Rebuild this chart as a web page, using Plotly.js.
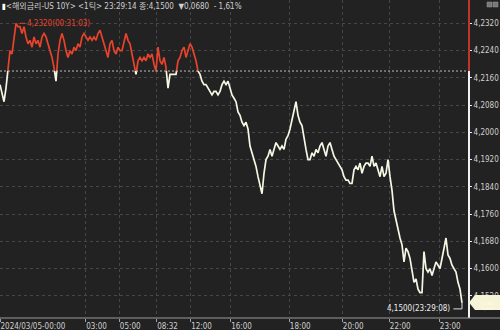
<!DOCTYPE html>
<html><head><meta charset="utf-8">
<script src="https://cdn.plot.ly/plotly-3.0.1.min.js"></script>
<style>html,body{margin:0;padding:0;background:#222;} #chart{width:500px;height:330px;}</style>
</head><body><div id="chart"></div>
<script>
// Tick-by-tick prices of US 10Y yield, 2024/03/05
const prices = [
4.214,4.211,4.209,4.213,4.219,4.224,4.223,4.227,4.232,4.231,
4.231,4.229,4.231,4.228,4.226,4.227,4.225,4.228,4.226,4.227,
4.225,4.228,4.229,4.228,4.226,4.224,4.222,4.219,4.215,4.223,
4.227,4.229,4.227,4.224,4.222,4.224,4.223,4.225,4.224,4.226,
4.225,4.228,4.229,4.228,4.227,4.228,4.227,4.228,4.227,4.229,
4.230,4.228,4.226,4.224,4.222,4.226,4.227,4.224,4.223,4.225,
4.224,4.224,4.227,4.229,4.227,4.226,4.223,4.220,4.217,4.221,
4.222,4.221,4.222,4.221,4.223,4.222,4.223,4.220,4.218,4.225,
4.221,4.220,4.222,4.219,4.213,4.217,4.217,4.217,4.217,4.221,
4.222,4.224,4.225,4.222,4.224,4.226,4.225,4.223,4.221,4.218,
4.217,4.215,4.214,4.214,4.213,4.212,4.211,4.212,4.212,4.211,
4.212,4.214,4.215,4.214,4.215,4.213,4.211,4.210,4.209,4.206,
4.205,4.203,4.202,4.203,4.201,4.196,4.194,4.192,4.190,4.187,
4.184,4.182,4.188,4.192,4.193,4.195,4.193,4.195,4.197,4.196,
4.195,4.196,4.195,4.198,4.199,4.201,4.204,4.207,4.209,4.205,
4.203,4.202,4.198,4.195,4.192,4.192,4.194,4.193,4.195,4.194,
4.196,4.197,4.195,4.193,4.196,4.197,4.195,4.193,4.192,4.191,
4.190,4.189,4.187,4.186,4.186,4.185,4.185,4.189,4.190,4.189,
4.191,4.188,4.190,4.191,4.191,4.190,4.193,4.190,4.191,4.189,
4.187,4.190,4.187,4.188,4.192,4.187,4.183,4.177,4.174,4.172,
4.169,4.167,4.162,4.166,4.165,4.163,4.160,4.156,4.157,4.154,
4.153,4.153,4.165,4.160,4.159,4.160,4.158,4.160,4.162,4.161,
4.160,4.163,4.166,4.169,4.164,4.163,4.161,4.160,4.159,4.156,
4.154,4.150
];
const prevClose = 4.218;
const maxTime = "00:31:03";
const lastTime = "23:29:08";
const lastChangePct = "-1,61%";
const timeLabels = ["2024/03/05-00:00","03:00","05:00","08:32","12:00","16:00","18:00","20:00","22:00","23:00"];
const timeLabelIdx = [0, 42.85, 59.65, 78.35, 95.35, 115.35, 144.65, 171.15, 194.65, 219.65];
const yTicksLow = [4.152,4.160,4.168,4.176,4.184,4.192,4.200,4.208,4.216];
const yTicksHigh = [4.224,4.232];
const headerText = "<해외금리-US 10Y> <1틱> 23:29:14 종:4,1500  ▼0,0680  - 1,61%";

const yLo = 4.14553, yHi = 4.23884;
const frac = (prevClose - yLo) / (yHi - yLo);
const fmt = v => v.toFixed(4).replace('.', ',');
const idx = prices.map((_, i) => i);
const NARROW = '"Liberation Sans Narrow", "DejaVu Sans Condensed", "Arial Narrow", "Liberation Sans", sans-serif';
const RED = '#e8432d', WHITE = '#f6f6e4';

let maxIdx = 0;
prices.forEach((p, i) => { if (p > prices[maxIdx]) maxIdx = i; });
const lastIdx = prices.length - 1, lastVal = prices[lastIdx];

const traces = [
  {x: idx, y: prices, xaxis: 'x', yaxis: 'y', type: 'scatter', mode: 'lines',
   line: {color: WHITE, width: 1.7, shape: 'linear'}, hoverinfo: 'skip'},
  {x: idx, y: prices, xaxis: 'x', yaxis: 'y2', type: 'scatter', mode: 'lines',
   line: {color: RED, width: 1.7, shape: 'linear'}, hoverinfo: 'skip'}
];

const gridCommon = {showgrid: true, gridcolor: '#474747', griddash: 'dot', gridwidth: 1, zeroline: false, fixedrange: true};
const tickFont = {family: NARROW, size: 8, color: '#cfcfcf'};
const W = 468, H = 318;

const layout = {
  width: 500, height: 330,
  margin: {l: 0, r: 32, t: 0, b: 12, pad: 0},
  paper_bgcolor: '#222222', plot_bgcolor: '#222222',
  showlegend: false, hovermode: false,
  xaxis: Object.assign({}, gridCommon, {
    range: [0, W / 2], tickvals: timeLabelIdx, ticktext: timeLabels,
    ticklabelposition: 'outside right', ticks: 'outside', ticklen: 3, tickcolor: '#a0a0a0',
    tickfont: tickFont, showline: false, anchor: 'y'
  }),
  yaxis: Object.assign({}, gridCommon, {
    domain: [0, frac], range: [yLo, prevClose], side: 'right', anchor: 'x',
    tickvals: yTicksLow, ticktext: yTicksLow.map(fmt), tickfont: tickFont,
    ticks: 'outside', ticklen: 2, tickcolor: '#eeeeee',
    showline: true, linecolor: '#f2f2f2', linewidth: 2
  }),
  yaxis2: Object.assign({}, gridCommon, {
    domain: [frac, 1], range: [prevClose, yHi], side: 'right', anchor: 'x',
    tickvals: yTicksHigh, ticktext: yTicksHigh.map(fmt), tickfont: tickFont,
    ticks: 'outside', ticklen: 2, tickcolor: '#eeeeee',
    showline: true, linecolor: '#c0342a', linewidth: 2
  }),
  shapes: [
    // previous close dotted line
    {type: 'line', xref: 'paper', yref: 'paper', x0: 0, x1: 1, y0: frac, y1: frac,
     line: {color: '#bdbdbd', width: 1, dash: '2px,2px'}},
    // bottom axis line across the full width
    {type: 'line', xref: 'paper', yref: 'paper', x0: 0, x1: 500 / W, y0: 0, y1: 0,
     line: {color: '#9a9a9a', width: 1}},
    // max label dash
    {type: 'line', xref: 'x', yref: 'y2', x0: maxIdx + 2, x1: maxIdx + 4.5,
     y0: prices[maxIdx], y1: prices[maxIdx], line: {color: RED, width: 1}},
    // end label connector
    {type: 'path', xref: 'x', yref: 'y',
     path: `M ${lastIdx - 4.3} ${lastVal - 0.0018} L ${lastIdx} ${lastVal - 0.0018} L ${lastIdx} ${lastVal}`,
     line: {color: '#e0e0e0', width: 1}},
    // last-price box on the right
    {type: 'path', xref: 'paper', yref: 'paper',
     path: `M ${469 / W} ${(H - 302.5) / H} L ${475 / W} ${(H - 295) / H} L ${500 / W} ${(H - 295) / H} L ${500 / W} ${(H - 310) / H} L ${475 / W} ${(H - 310) / H} Z`,
     fillcolor: '#f7f3d6', line: {color: '#f7f3d6', width: 0}},
    // small window icons top right
    {type: 'rect', xref: 'paper', yref: 'paper', x0: 487 / W, x1: 492 / W, y0: (H - 7) / H, y1: (H - 2) / H,
     fillcolor: '#777', line: {color: '#999', width: 0.5}},
    {type: 'rect', xref: 'paper', yref: 'paper', x0: 493 / W, x1: 498 / W, y0: (H - 7) / H, y1: (H - 2) / H,
     fillcolor: '#777', line: {color: '#999', width: 0.5}}
  ],
  annotations: [
    {xref: 'paper', yref: 'paper', x: 0, y: 1, xanchor: 'left', yanchor: 'top', yshift: 1,
     showarrow: false, text: '<span style="color:#ffffff">▮</span>' + headerText.replace(/</g, '&lt;').replace(/>/g, '&gt;'),
     font: {family: NARROW + ', "Noto Sans CJK KR"', size: 8, color: '#cfcfcf'}},
    {xref: 'x', yref: 'y2', x: maxIdx, y: prices[maxIdx], showarrow: false,
     xanchor: 'left', yanchor: 'middle', xshift: 9,
     text: fmt(prices[maxIdx]) + '(' + maxTime + ')', font: {family: NARROW, size: 8, color: RED}},
    {xref: 'x', yref: 'y', x: lastIdx - 4.3, y: lastVal - 0.0018, showarrow: false,
     xanchor: 'right', yanchor: 'middle', xshift: -1,
     text: fmt(lastVal) + '(' + lastTime + ')', font: {family: NARROW, size: 8, color: '#eeeeee'}},
    {xref: 'paper', yref: 'paper', x: 487 / W, y: (H - 306) / H, showarrow: false,
     xanchor: 'center', yanchor: 'middle',
     text: fmt(lastVal) + '<br>' + lastChangePct, font: {family: NARROW, size: 4, color: '#fffdf0'}}
  ]
};

Plotly.newPlot('chart', traces, layout, {displayModeBar: false, staticPlot: true});
</script>
</body></html>
